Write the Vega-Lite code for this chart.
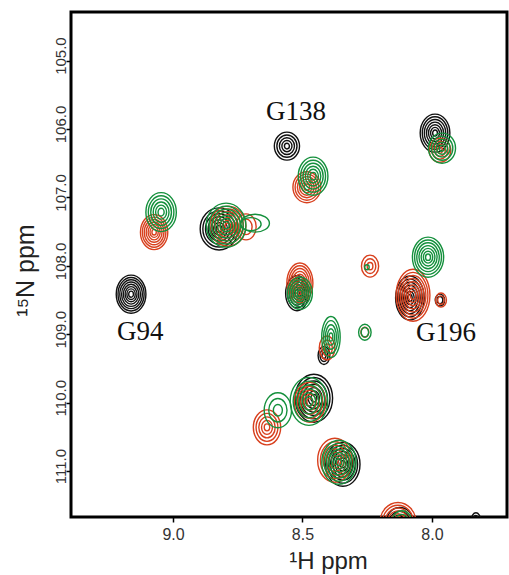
{
  "$schema": "https://vega.github.io/schema/vega-lite/v6.json",
  "width": 436,
  "height": 505,
  "autosize": {"type": "none"},
  "padding": {"left": 71, "top": 12, "right": 2, "bottom": 58},
  "background": "white",
  "config": {
    "view": {"stroke": "#000", "strokeWidth": 3},
    "axis": {"grid": false, "domain": false, "labelFont": "Liberation Sans", "titleFont": "Liberation Sans", "tickColor": "#000", "labelColor": "#333", "titleColor": "#222", "titleFontWeight": "normal", "labelFlush": false, "labelOverlap": false}
  },
  "layer": [
    {
      "data": {"values": [
        {"c":"k","x":9.162,"y":108.414,"h":0.556,"p":"a78"},
        {"c":"k","x":9.162,"y":108.414,"h":0.489,"p":"a78"},
        {"c":"k","x":9.162,"y":108.414,"h":0.422,"p":"a78"},
        {"c":"k","x":9.162,"y":108.414,"h":0.356,"p":"a78"},
        {"c":"k","x":9.162,"y":108.414,"h":0.289,"p":"a78"},
        {"c":"k","x":9.162,"y":108.414,"h":0.222,"p":"a78"},
        {"c":"k","x":9.162,"y":108.414,"h":0.156,"p":"a78"},
        {"c":"k","x":9.162,"y":108.414,"h":0.089,"p":"a78"},
        {"c":"k","x":8.822,"y":107.46,"h":0.614,"p":"a90"},
        {"c":"k","x":8.822,"y":107.46,"h":0.528,"p":"a90"},
        {"c":"k","x":8.822,"y":107.46,"h":0.442,"p":"a90"},
        {"c":"k","x":8.822,"y":107.46,"h":0.356,"p":"a90"},
        {"c":"k","x":8.822,"y":107.46,"h":0.270,"p":"a90"},
        {"c":"k","x":8.822,"y":107.46,"h":0.184,"p":"a90"},
        {"c":"k","x":8.822,"y":107.46,"h":0.098,"p":"a90"},
        {"c":"k","x":8.560,"y":106.25,"h":0.409,"p":"a90"},
        {"c":"k","x":8.560,"y":106.25,"h":0.327,"p":"a90"},
        {"c":"k","x":8.560,"y":106.25,"h":0.245,"p":"a90"},
        {"c":"k","x":8.560,"y":106.25,"h":0.164,"p":"a90"},
        {"c":"k","x":8.560,"y":106.25,"h":0.082,"p":"a90"},
        {"c":"k","x":8.521,"y":108.40,"h":0.512,"p":"a65"},
        {"c":"k","x":8.521,"y":108.40,"h":0.430,"p":"a65"},
        {"c":"k","x":8.521,"y":108.40,"h":0.348,"p":"a65"},
        {"c":"k","x":8.521,"y":108.40,"h":0.266,"p":"a65"},
        {"c":"k","x":8.521,"y":108.40,"h":0.184,"p":"a65"},
        {"c":"k","x":8.521,"y":108.40,"h":0.102,"p":"a65"},
        {"c":"k","x":8.417,"y":109.31,"h":0.263,"p":"a65"},
        {"c":"k","x":8.417,"y":109.31,"h":0.176,"p":"a65"},
        {"c":"k","x":8.417,"y":109.31,"h":0.087,"p":"a65"},
        {"c":"k","x":8.085,"y":108.47,"h":0.643,"p":"a65"},
        {"c":"k","x":8.085,"y":108.47,"h":0.553,"p":"a65"},
        {"c":"k","x":8.085,"y":108.47,"h":0.463,"p":"a65"},
        {"c":"k","x":8.085,"y":108.47,"h":0.373,"p":"a65"},
        {"c":"k","x":8.085,"y":108.47,"h":0.283,"p":"a65"},
        {"c":"k","x":8.085,"y":108.47,"h":0.193,"p":"a65"},
        {"c":"k","x":8.085,"y":108.47,"h":0.103,"p":"a65"},
        {"c":"k","x":7.969,"y":108.50,"h":0.175,"p":"a78"},
        {"c":"k","x":7.969,"y":108.50,"h":0.105,"p":"a78"},
        {"c":"k","x":7.988,"y":106.06,"h":0.556,"p":"a78"},
        {"c":"k","x":7.988,"y":106.06,"h":0.478,"p":"a78"},
        {"c":"k","x":7.988,"y":106.06,"h":0.400,"p":"a78"},
        {"c":"k","x":7.988,"y":106.06,"h":0.322,"p":"a78"},
        {"c":"k","x":7.988,"y":106.06,"h":0.245,"p":"a78"},
        {"c":"k","x":7.988,"y":106.06,"h":0.167,"p":"a78"},
        {"c":"k","x":7.988,"y":106.06,"h":0.089,"p":"a78"},
        {"c":"k","x":8.456,"y":109.934,"h":0.702,"p":"a78"},
        {"c":"k","x":8.456,"y":109.934,"h":0.604,"p":"a78"},
        {"c":"k","x":8.456,"y":109.934,"h":0.505,"p":"a78"},
        {"c":"k","x":8.456,"y":109.934,"h":0.407,"p":"a78"},
        {"c":"k","x":8.456,"y":109.934,"h":0.309,"p":"a78"},
        {"c":"k","x":8.456,"y":109.934,"h":0.211,"p":"a78"},
        {"c":"k","x":8.456,"y":109.934,"h":0.112,"p":"a78"},
        {"c":"k","x":8.344,"y":110.90,"h":0.643,"p":"a78"},
        {"c":"k","x":8.344,"y":110.90,"h":0.553,"p":"a78"},
        {"c":"k","x":8.344,"y":110.90,"h":0.463,"p":"a78"},
        {"c":"k","x":8.344,"y":110.90,"h":0.373,"p":"a78"},
        {"c":"k","x":8.344,"y":110.90,"h":0.283,"p":"a78"},
        {"c":"k","x":8.344,"y":110.90,"h":0.193,"p":"a78"},
        {"c":"k","x":8.344,"y":110.90,"h":0.103,"p":"a78"},
        {"c":"k","x":8.124,"y":111.75,"h":0.439,"p":"a90"},
        {"c":"k","x":8.124,"y":111.75,"h":0.329,"p":"a90"},
        {"c":"k","x":8.124,"y":111.75,"h":0.219,"p":"a90"},
        {"c":"k","x":8.124,"y":111.75,"h":0.110,"p":"a90"},
        {"c":"k","x":7.830,"y":111.71,"h":0.205,"p":"a65"},
        {"c":"k","x":7.830,"y":111.71,"h":0.123,"p":"a65"},

        {"c":"r","x":9.073,"y":107.507,"h":0.512,"p":"a78"},
        {"c":"r","x":9.073,"y":107.507,"h":0.440,"p":"a78"},
        {"c":"r","x":9.073,"y":107.507,"h":0.369,"p":"a78"},
        {"c":"r","x":9.073,"y":107.507,"h":0.297,"p":"a78"},
        {"c":"r","x":9.073,"y":107.507,"h":0.225,"p":"a78"},
        {"c":"r","x":9.073,"y":107.507,"h":0.154,"p":"a78"},
        {"c":"r","x":9.073,"y":107.507,"h":0.082,"p":"a78"},
        {"c":"r","x":8.788,"y":107.42,"h":0.585,"p":"a90"},
        {"c":"r","x":8.788,"y":107.42,"h":0.503,"p":"a90"},
        {"c":"r","x":8.788,"y":107.42,"h":0.421,"p":"a90"},
        {"c":"r","x":8.788,"y":107.42,"h":0.339,"p":"a90"},
        {"c":"r","x":8.788,"y":107.42,"h":0.257,"p":"a90"},
        {"c":"r","x":8.788,"y":107.42,"h":0.175,"p":"a90"},
        {"c":"r","x":8.788,"y":107.42,"h":0.094,"p":"a90"},
        {"c":"r","x":8.718,"y":107.43,"h":0.380,"p":"a78"},
        {"c":"r","x":8.718,"y":107.43,"h":0.228,"p":"a78"},
        {"c":"r","x":8.483,"y":106.85,"h":0.453,"p":"a90"},
        {"c":"r","x":8.483,"y":106.85,"h":0.381,"p":"a90"},
        {"c":"r","x":8.483,"y":106.85,"h":0.308,"p":"a90"},
        {"c":"r","x":8.483,"y":106.85,"h":0.236,"p":"a90"},
        {"c":"r","x":8.483,"y":106.85,"h":0.163,"p":"a90"},
        {"c":"r","x":8.483,"y":106.85,"h":0.091,"p":"a90"},
        {"c":"r","x":8.510,"y":108.25,"h":0.585,"p":"a65"},
        {"c":"r","x":8.510,"y":108.25,"h":0.503,"p":"a65"},
        {"c":"r","x":8.510,"y":108.25,"h":0.421,"p":"a65"},
        {"c":"r","x":8.510,"y":108.25,"h":0.339,"p":"a65"},
        {"c":"r","x":8.510,"y":108.25,"h":0.257,"p":"a65"},
        {"c":"r","x":8.510,"y":108.25,"h":0.175,"p":"a65"},
        {"c":"r","x":8.510,"y":108.25,"h":0.094,"p":"a65"},
        {"c":"r","x":8.239,"y":108.004,"h":0.322,"p":"a78"},
        {"c":"r","x":8.239,"y":108.004,"h":0.216,"p":"a78"},
        {"c":"r","x":8.239,"y":108.004,"h":0.106,"p":"a78"},
        {"c":"r","x":8.405,"y":109.20,"h":0.351,"p":"a65"},
        {"c":"r","x":8.405,"y":109.20,"h":0.235,"p":"a65"},
        {"c":"r","x":8.405,"y":109.20,"h":0.116,"p":"a65"},
        {"c":"r","x":8.259,"y":108.97,"h":0.146,"p":"a78"},
        {"c":"r","x":8.073,"y":108.43,"h":0.760,"p":"a65"},
        {"c":"r","x":8.073,"y":108.43,"h":0.669,"p":"a65"},
        {"c":"r","x":8.073,"y":108.43,"h":0.578,"p":"a65"},
        {"c":"r","x":8.073,"y":108.43,"h":0.486,"p":"a65"},
        {"c":"r","x":8.073,"y":108.43,"h":0.395,"p":"a65"},
        {"c":"r","x":8.073,"y":108.43,"h":0.304,"p":"a65"},
        {"c":"r","x":8.073,"y":108.43,"h":0.213,"p":"a65"},
        {"c":"r","x":8.073,"y":108.43,"h":0.122,"p":"a65"},
        {"c":"r","x":7.965,"y":108.50,"h":0.205,"p":"a78"},
        {"c":"r","x":7.965,"y":108.50,"h":0.123,"p":"a78"},
        {"c":"r","x":7.969,"y":106.31,"h":0.351,"p":"a90"},
        {"c":"r","x":7.969,"y":106.31,"h":0.263,"p":"a90"},
        {"c":"r","x":7.969,"y":106.31,"h":0.175,"p":"a90"},
        {"c":"r","x":7.969,"y":106.31,"h":0.088,"p":"a90"},
        {"c":"r","x":8.471,"y":109.993,"h":0.585,"p":"a78"},
        {"c":"r","x":8.471,"y":109.993,"h":0.468,"p":"a78"},
        {"c":"r","x":8.471,"y":109.993,"h":0.351,"p":"a78"},
        {"c":"r","x":8.471,"y":109.993,"h":0.234,"p":"a78"},
        {"c":"r","x":8.471,"y":109.993,"h":0.117,"p":"a78"},
        {"c":"r","x":8.637,"y":110.36,"h":0.512,"p":"a78"},
        {"c":"r","x":8.637,"y":110.36,"h":0.409,"p":"a78"},
        {"c":"r","x":8.637,"y":110.36,"h":0.307,"p":"a78"},
        {"c":"r","x":8.637,"y":110.36,"h":0.205,"p":"a78"},
        {"c":"r","x":8.637,"y":110.36,"h":0.102,"p":"a78"},
        {"c":"r","x":8.375,"y":110.84,"h":0.643,"p":"a78"},
        {"c":"r","x":8.375,"y":110.84,"h":0.540,"p":"a78"},
        {"c":"r","x":8.375,"y":110.84,"h":0.437,"p":"a78"},
        {"c":"r","x":8.375,"y":110.84,"h":0.334,"p":"a78"},
        {"c":"r","x":8.375,"y":110.84,"h":0.232,"p":"a78"},
        {"c":"r","x":8.375,"y":110.84,"h":0.129,"p":"a78"},
        {"c":"r","x":8.131,"y":111.75,"h":0.585,"p":"a90"},
        {"c":"r","x":8.131,"y":111.75,"h":0.503,"p":"a90"},
        {"c":"r","x":8.131,"y":111.75,"h":0.421,"p":"a90"},
        {"c":"r","x":8.131,"y":111.75,"h":0.339,"p":"a90"},
        {"c":"r","x":8.131,"y":111.75,"h":0.257,"p":"a90"},
        {"c":"r","x":8.131,"y":111.75,"h":0.175,"p":"a90"},
        {"c":"r","x":8.131,"y":111.75,"h":0.094,"p":"a90"},

        {"c":"g","x":9.046,"y":107.215,"h":0.570,"p":"a78"},
        {"c":"g","x":9.046,"y":107.215,"h":0.479,"p":"a78"},
        {"c":"g","x":9.046,"y":107.215,"h":0.388,"p":"a78"},
        {"c":"g","x":9.046,"y":107.215,"h":0.296,"p":"a78"},
        {"c":"g","x":9.046,"y":107.215,"h":0.205,"p":"a78"},
        {"c":"g","x":9.046,"y":107.215,"h":0.114,"p":"a78"},
        {"c":"g","x":8.795,"y":107.405,"h":0.643,"p":"a90"},
        {"c":"g","x":8.795,"y":107.405,"h":0.553,"p":"a90"},
        {"c":"g","x":8.795,"y":107.405,"h":0.463,"p":"a90"},
        {"c":"g","x":8.795,"y":107.405,"h":0.373,"p":"a90"},
        {"c":"g","x":8.795,"y":107.405,"h":0.283,"p":"a90"},
        {"c":"g","x":8.795,"y":107.405,"h":0.193,"p":"a90"},
        {"c":"g","x":8.795,"y":107.405,"h":0.103,"p":"a90"},
        {"c":"g","x":8.683,"y":107.376,"h":0.262,"p":"w16"},
        {"c":"g","x":8.700,"y":107.39,"h":0.190,"p":"w16"},
        {"c":"g","x":8.459,"y":106.689,"h":0.556,"p":"a78"},
        {"c":"g","x":8.459,"y":106.689,"h":0.467,"p":"a78"},
        {"c":"g","x":8.459,"y":106.689,"h":0.378,"p":"a78"},
        {"c":"g","x":8.459,"y":106.689,"h":0.289,"p":"a78"},
        {"c":"g","x":8.459,"y":106.689,"h":0.200,"p":"a78"},
        {"c":"g","x":8.459,"y":106.689,"h":0.111,"p":"a78"},
        {"c":"g","x":8.510,"y":108.40,"h":0.468,"p":"a78"},
        {"c":"g","x":8.510,"y":108.40,"h":0.393,"p":"a78"},
        {"c":"g","x":8.510,"y":108.40,"h":0.318,"p":"a78"},
        {"c":"g","x":8.510,"y":108.40,"h":0.243,"p":"a78"},
        {"c":"g","x":8.510,"y":108.40,"h":0.168,"p":"a78"},
        {"c":"g","x":8.510,"y":108.40,"h":0.094,"p":"a78"},
        {"c":"g","x":8.251,"y":108.02,"h":0.073,"p":"a90"},
        {"c":"g","x":8.390,"y":109.04,"h":0.599,"p":"a45"},
        {"c":"g","x":8.390,"y":109.04,"h":0.479,"p":"a45"},
        {"c":"g","x":8.390,"y":109.04,"h":0.359,"p":"a45"},
        {"c":"g","x":8.390,"y":109.04,"h":0.240,"p":"a45"},
        {"c":"g","x":8.390,"y":109.04,"h":0.120,"p":"a45"},
        {"c":"g","x":8.259,"y":108.97,"h":0.234,"p":"a78"},
        {"c":"g","x":8.259,"y":108.97,"h":0.140,"p":"a78"},
        {"c":"g","x":8.015,"y":107.873,"h":0.585,"p":"a78"},
        {"c":"g","x":8.015,"y":107.873,"h":0.503,"p":"a78"},
        {"c":"g","x":8.015,"y":107.873,"h":0.421,"p":"a78"},
        {"c":"g","x":8.015,"y":107.873,"h":0.339,"p":"a78"},
        {"c":"g","x":8.015,"y":107.873,"h":0.257,"p":"a78"},
        {"c":"g","x":8.015,"y":107.873,"h":0.175,"p":"a78"},
        {"c":"g","x":8.015,"y":107.873,"h":0.094,"p":"a78"},
        {"c":"g","x":7.961,"y":106.28,"h":0.439,"p":"a90"},
        {"c":"g","x":7.961,"y":106.28,"h":0.351,"p":"a90"},
        {"c":"g","x":7.961,"y":106.28,"h":0.263,"p":"a90"},
        {"c":"g","x":7.961,"y":106.28,"h":0.176,"p":"a90"},
        {"c":"g","x":7.961,"y":106.28,"h":0.088,"p":"a90"},
        {"c":"g","x":8.475,"y":109.98,"h":0.702,"p":"a78"},
        {"c":"g","x":8.475,"y":109.98,"h":0.590,"p":"a78"},
        {"c":"g","x":8.475,"y":109.98,"h":0.477,"p":"a78"},
        {"c":"g","x":8.475,"y":109.98,"h":0.365,"p":"a78"},
        {"c":"g","x":8.475,"y":109.98,"h":0.253,"p":"a78"},
        {"c":"g","x":8.475,"y":109.98,"h":0.140,"p":"a78"},
        {"c":"g","x":8.595,"y":110.11,"h":0.512,"p":"a78"},
        {"c":"g","x":8.595,"y":110.11,"h":0.343,"p":"a78"},
        {"c":"g","x":8.595,"y":110.11,"h":0.169,"p":"a78"},
        {"c":"g","x":8.359,"y":110.87,"h":0.643,"p":"a78"},
        {"c":"g","x":8.359,"y":110.87,"h":0.553,"p":"a78"},
        {"c":"g","x":8.359,"y":110.87,"h":0.463,"p":"a78"},
        {"c":"g","x":8.359,"y":110.87,"h":0.373,"p":"a78"},
        {"c":"g","x":8.359,"y":110.87,"h":0.283,"p":"a78"},
        {"c":"g","x":8.359,"y":110.87,"h":0.193,"p":"a78"},
        {"c":"g","x":8.359,"y":110.87,"h":0.103,"p":"a78"},
        {"c":"g","x":8.116,"y":111.74,"h":0.322,"p":"a90"},
        {"c":"g","x":8.116,"y":111.74,"h":0.216,"p":"a90"},
        {"c":"g","x":8.116,"y":111.74,"h":0.106,"p":"a90"}
      ]},
      "mark": {"type": "point", "filled": false, "strokeWidth": 1.4, "opacity": 1, "clip": true},
      "encoding": {
        "x": {"field": "x", "type": "quantitative", "scale": {"domain": [7.71, 9.394], "reverse": true, "nice": false, "zero": false},
          "axis": {"title": "¹H ppm", "values": [9.0, 8.5, 8.0], "format": ".1f", "labelFontSize": 16, "tickSize": 5, "tickWidth": 1.5, "labelPadding": 4, "titleFontSize": 24, "titleX": 257, "titleY": 51, "titleBaseline": "alphabetic", "titleAlign": "center"}},
        "y": {"field": "y", "type": "quantitative", "scale": {"domain": [104.29, 111.67], "reverse": true, "nice": false, "zero": false},
          "axis": {"title": "¹⁵N ppm", "values": [105, 106, 107, 108, 109, 110, 111], "format": ".1f", "labelAngle": -90, "labelAlign": "center", "labelBaseline": "alphabetic", "labelFontSize": 15, "tickSize": 5, "tickWidth": 1.5, "labelPadding": 1, "labelOffset": -5, "titleFontSize": 25, "titleAngle": -90, "titleX": -38, "titleY": 258, "titleBaseline": "alphabetic", "titleAlign": "center"}},
        "size": {"field": "h", "type": "quantitative", "scale": {"type": "pow", "exponent": 2, "domain": [0, 1], "range": [0, 4683]}, "legend": null},
        "shape": {"field": "p", "type": "nominal", "legend": null, "scale": {"domain": ["a45", "a65", "a78", "a90", "w16"], "range": [
          "M0.45,0C0.45,0.5523 0.2485,1 0,1C-0.2485,1 -0.45,0.5523 -0.45,0C-0.45,-0.5523 -0.2485,-1 0,-1C0.2485,-1 0.45,-0.5523 0.45,0Z",
          "M0.65,0C0.65,0.5523 0.359,1 0,1C-0.359,1 -0.65,0.5523 -0.65,0C-0.65,-0.5523 -0.359,-1 0,-1C0.359,-1 0.65,-0.5523 0.65,0Z",
          "M0.78,0C0.78,0.5523 0.4308,1 0,1C-0.4308,1 -0.78,0.5523 -0.78,0C-0.78,-0.5523 -0.4308,-1 0,-1C0.4308,-1 0.78,-0.5523 0.78,0Z",
          "M0.9,0C0.9,0.5523 0.4971,1 0,1C-0.4971,1 -0.9,0.5523 -0.9,0C-0.9,-0.5523 -0.4971,-1 0,-1C0.4971,-1 0.9,-0.5523 0.9,0Z",
          "M1.6,0C1.6,0.5523 0.8837,1 0,1C-0.8837,1 -1.6,0.5523 -1.6,0C-1.6,-0.5523 -0.8837,-1 0,-1C0.8837,-1 1.6,-0.5523 1.6,0Z"
        ]}},
        "color": {"field": "c", "type": "nominal", "legend": null, "scale": {"domain": ["k", "r", "g"], "range": ["#111111", "#d8401e", "#14903c"]}}
      }
    },
    {
      "data": {"values": [
        {"t": "G94", "x": 9.127, "y": 108.97},
        {"t": "G138", "x": 8.525, "y": 105.753},
        {"t": "G196", "x": 7.946, "y": 108.98}
      ]},
      "mark": {"type": "text", "font": "Liberation Serif", "fontSize": 27, "align": "center", "baseline": "middle", "color": "#111"},
      "encoding": {
        "x": {"field": "x", "type": "quantitative"},
        "y": {"field": "y", "type": "quantitative"},
        "text": {"field": "t"}
      }
    }
  ]
}
